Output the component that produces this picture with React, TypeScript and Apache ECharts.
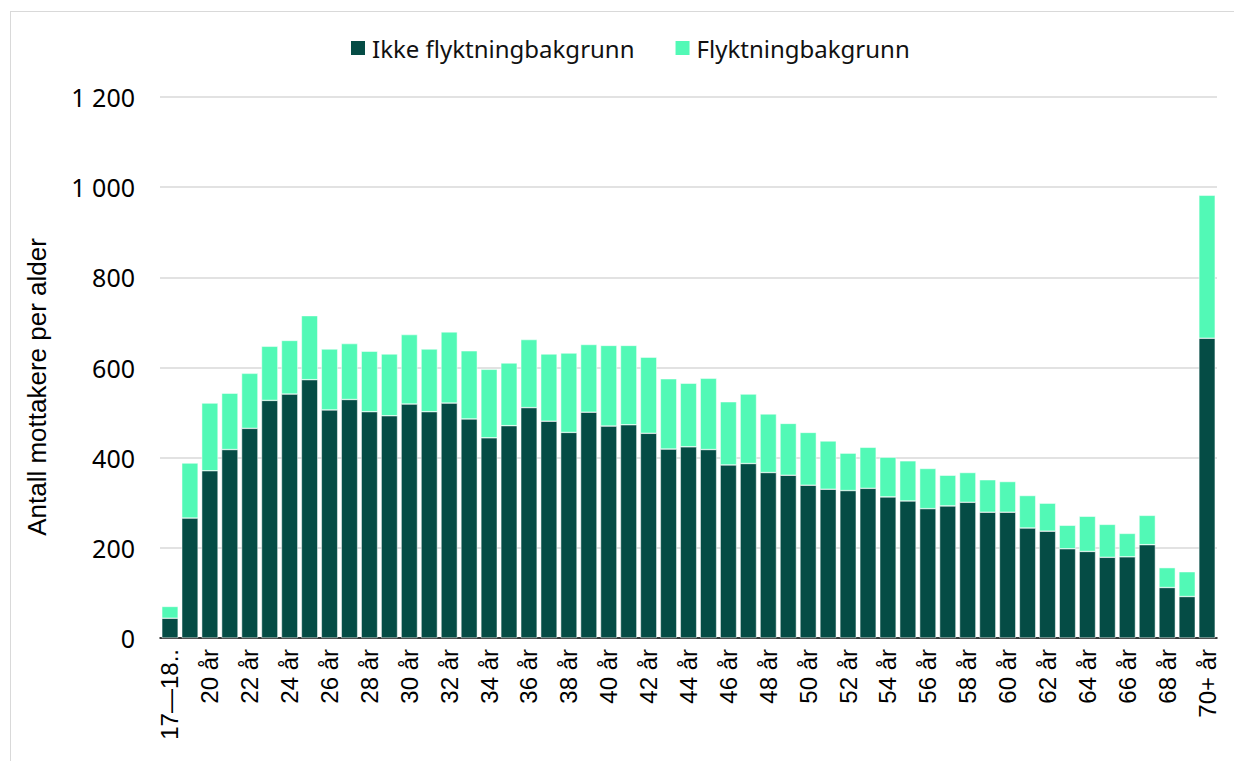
import React, { useEffect, useRef } from "react";
import * as echarts from "echarts";

const categories: string[] = [
  "17—18 år", "19 år", "20 år", "21 år", "22 år", "23 år", "24 år", "25 år", "26 år", "27 år",
  "28 år", "29 år", "30 år", "31 år", "32 år", "33 år", "34 år", "35 år", "36 år", "37 år",
  "38 år", "39 år", "40 år", "41 år", "42 år", "43 år", "44 år", "45 år", "46 år", "47 år",
  "48 år", "49 år", "50 år", "51 år", "52 år", "53 år", "54 år", "55 år", "56 år", "57 år",
  "58 år", "59 år", "60 år", "61 år", "62 år", "63 år", "64 år", "65 år", "66 år", "67 år",
  "68 år", "69 år", "70+ år",
];

const ikkeFlykt: number[] = [
  44, 266, 371, 418, 465, 527, 541, 573, 506, 529,
  502, 493, 519, 502, 521, 486, 444, 471, 511, 481,
  456, 501, 470, 473, 454, 419, 424, 418, 384, 387,
  367, 361, 339, 330, 327, 332, 313, 304, 287, 293,
  301, 279, 279, 244, 237, 198, 192, 179, 180, 207,
  112, 92, 665,
];

const totals: number[] = [
  70, 388, 521, 543, 587, 647, 660, 715, 641, 653,
  636, 630, 673, 641, 679, 637, 596, 610, 662, 630,
  632, 651, 649, 649, 623, 575, 565, 576, 524, 541,
  497, 476, 456, 437, 410, 423, 401, 393, 376, 361,
  367, 351, 347, 316, 299, 250, 270, 252, 232, 272,
  156, 147, 982,
];

const flykt: number[] = totals.map((t, i) => t - ikkeFlykt[i]);

const yTicks = { min: 0, max: 1200, interval: 200 };
const yTitle = "Antall mottakere per alder";

const SANS = "'Noto Sans', sans-serif";
const ARIAL = "'Liberation Sans', Arial, sans-serif";

export default function App() {
  const ref = useRef<HTMLDivElement>(null);

  useEffect(() => {
    if (!ref.current) return;
    const chart = echarts.init(ref.current, undefined, { renderer: "svg" });
    chart.setOption({
      animation: false,
      textStyle: { fontFamily: SANS, color: "#000" },
      legend: {
        top: 31,
        left: 344,
        itemWidth: 16,
        itemHeight: 16,
        itemGap: 39,
        icon: "path://M0,0H10V10H0Z",
        textStyle: { fontSize: 24, color: "#111", fontFamily: SANS, padding: [0, 0, 0, 1] },
        data: ["Ikke flyktningbakgrunn", "Flyktningbakgrunn"],
      },
      graphic: [
        {
          type: "text",
          x: 37,
          y: 387,
          rotation: Math.PI / 2,
          style: {
            text: yTitle,
            fontSize: 26,
            fontFamily: ARIAL,
            fill: "#000",
            align: "center",
            verticalAlign: "middle",
          },
        },
      ],
      grid: { left: 160, right: 17, top: 97, bottom: 123, containLabel: false },
      xAxis: {
        type: "category",
        data: categories,
        axisLine: { lineStyle: { color: "#000", width: 1.5 } },
        axisTick: { show: false },
        axisLabel: {
          rotate: 90,
          interval: 1,
          fontSize: 24,
          color: "#000",
          margin: 11,
          fontFamily: ARIAL,
          formatter: (v: string) => (v.length > 7 ? v.slice(0, 5) + ".." : v),
        },
      },
      yAxis: {
        type: "value",
        min: yTicks.min,
        max: yTicks.max,
        interval: yTicks.interval,
        axisLine: { show: false },
        axisTick: { show: false },
        splitLine: { lineStyle: { color: "#d9d9d9", width: 1.5 } },
        axisLabel: {
          fontSize: 25,
          color: "#000",
          margin: 25,
          fontFamily: SANS,
          formatter: (v: number) => String(v).replace(/\B(?=(\d{3})+(?!\d))/g, " "),
        },
      },
      series: [
        {
          name: "Ikke flyktningbakgrunn",
          type: "bar",
          stack: "total",
          data: ikkeFlykt,
          barCategoryGap: "18%",
          itemStyle: { color: "#054C45", borderColor: "#ffffff", borderWidth: 0.5 },
        },
        {
          name: "Flyktningbakgrunn",
          type: "bar",
          stack: "total",
          data: flykt,
          barCategoryGap: "18%",
          itemStyle: { color: "#52F9B6", borderColor: "#ffffff", borderWidth: 0.5 },
        },
      ],
    });
    return () => chart.dispose();
  }, []);

  return (
    <div style={{ position: "absolute", left: 0, top: 0, width: 1234, height: 761, background: "#fff", overflow: "hidden" }}>
      <div
        style={{
          position: "absolute",
          left: 10,
          top: 11,
          width: 1230,
          height: 760,
          borderTop: "1px solid #d9d9d9",
          borderLeft: "1px solid #d9d9d9",
        }}
      />
      <div ref={ref} style={{ position: "absolute", left: 0, top: 0, width: 1234, height: 761 }} />
    </div>
  );
}
